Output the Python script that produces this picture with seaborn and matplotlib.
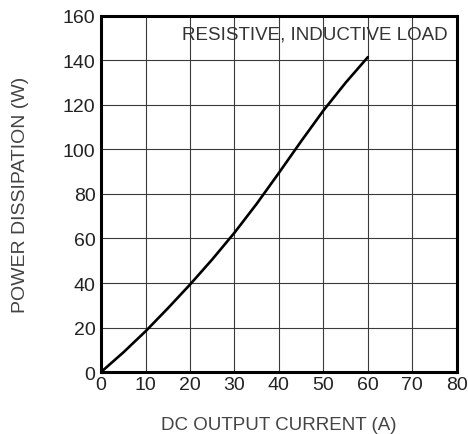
import matplotlib
matplotlib.use("Agg")
import matplotlib.pyplot as plt
import seaborn as sns
import pandas as pd

sns.set_style("white")
plt.rcParams['font.family'] = ['Liberation Sans', 'DejaVu Sans']

current = [0, 5, 10, 15, 20, 25, 30, 35, 40, 45, 50, 55, 60]
power = [0, 8.8, 18.3, 28.6, 39.3, 50.6, 62.6, 75.6, 89.5, 103.7, 117.5, 130, 141.5]
x_ticks = [0, 10, 20, 30, 40, 50, 60, 70, 80]
y_ticks = [0, 20, 40, 60, 80, 100, 120, 140, 160]

df = pd.DataFrame({"current": current, "power": power})

my_dpi = 100
fig = plt.figure(figsize=(468 / my_dpi, 435 / my_dpi), dpi=my_dpi)
ax = fig.add_axes([0.216, 0.1425, 0.76, 0.8185])

ax.set_xlim(0, 80)
ax.set_ylim(0, 160)
ax.set_xticks(x_ticks)
ax.set_yticks(y_ticks)
ax.grid(True, color="#3a3a3a", linewidth=0.8)
ax.set_axisbelow(True)

sns.lineplot(data=df, x="current", y="power", ax=ax, color="black",
             linewidth=1.9, sort=False)

for s in ax.spines.values():
    s.set_linewidth(2.2)
    s.set_color("black")

ax.tick_params(axis="both", labelsize=14, labelcolor="#222222", length=0)
ax.tick_params(axis="y", pad=4)
ax.tick_params(axis="x", pad=3)
ax.set_xlabel("DC OUTPUT CURRENT (A)", fontsize=13.5, color="#444444", va="center")
ax.set_ylabel("POWER DISSIPATION (W)", fontsize=14, color="#444444", va="center")
ax.xaxis.set_label_coords(0.5, -0.147)
ax.yaxis.set_label_coords(-0.2275, 0.5)
ax.text(77.9, 155.5, "RESISTIVE, INDUCTIVE LOAD", ha="right", va="top",
        fontsize=13.5, color="#333333")

fig.savefig("out.png", dpi=my_dpi)
